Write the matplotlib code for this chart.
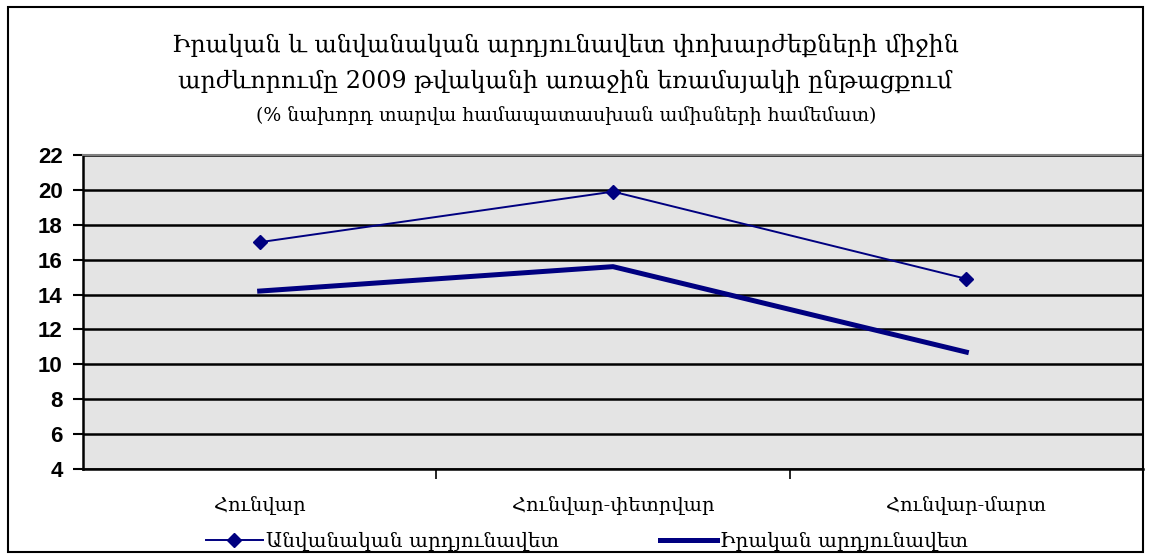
import matplotlib.pyplot as plt
from matplotlib.patches import Rectangle

# data
periods = ["Հունվար", "Հունվար-փետրվար", "Հունվար-մարտ"]
nominal = [17.0, 19.9, 14.9]
real = [14.2, 15.6, 10.7]
nominal_label = "Անվանական արդյունավետ"
real_label = "Իրական արդյունավետ"
y_ticks = [4, 6, 8, 10, 12, 14, 16, 18, 20, 22]

serif = ["DejaVu Serif Condensed", "DejaVu Serif"]
navy = "#000080"

fig = plt.figure(figsize=(11.51, 5.59), dpi=100)
ax = fig.add_axes([83 / 1151, 1 - 469 / 559, (1143 - 83) / 1151, (469 - 155) / 559])

x = list(range(len(periods)))
ax.plot(x, nominal, color=navy, lw=1.4, marker="D", ms=7.5, label=nominal_label, zorder=3)
ax.plot(x, real, color=navy, lw=3.6, label=real_label, zorder=3)

ax.set_facecolor("#e4e4e4")
ax.set_xlim(-0.5, 2.5)
ax.set_ylim(4, 22)
ax.set_yticks(y_ticks)
ax.set_yticklabels([str(v) for v in y_ticks], fontfamily="Liberation Sans", fontweight="bold", fontsize=16)
ax.yaxis.grid(True, color="black", lw=1.8)
ax.set_axisbelow(True)
ax.tick_params(axis="y", direction="out", length=7.5, width=1.5, pad=7)

# category ticks sit between the categories, labels under the centers
ax.set_xticks([0.5, 1.5])
ax.set_xticklabels([])
ax.tick_params(axis="x", direction="out", length=7, width=1.2)
for xi, name in zip(x, periods):
    ax.text(xi, -0.115, name, transform=ax.get_xaxis_transform(), ha="center", va="center",
            family=serif, fontsize=14)

for side in ["left", "bottom"]:
    ax.spines[side].set_color("black")
    ax.spines[side].set_linewidth(1.8)
ax.spines["top"].set_color("#808080")
ax.spines["top"].set_linewidth(1.5)
ax.spines["right"].set_visible(False)

# titles
fig.text(565 / 1151, 1 - 45 / 559, "Իրական և անվանական արդյունավետ փոխարժեքների միջին",
         ha="center", va="center", family=serif, fontsize=17.1)
fig.text(565 / 1151, 1 - 81 / 559, "արժևորումը 2009 թվականի առաջին եռամսյակի ընթացքում",
         ha="center", va="center", family=serif, fontsize=17.1)
fig.text(566 / 1151, 1 - 116 / 559, "(% նախորդ տարվա համապատասխան ամիսների համեմատ)",
         ha="center", va="center", family=serif, fontsize=13.6)

# legend
leg = fig.legend(loc="center", bbox_to_anchor=(587 / 1151, 1 - 541 / 559), ncol=2, frameon=False,
                 prop={"family": serif, "size": 14.4}, handlelength=2.85, handletextpad=0.2,
                 columnspacing=5.0, borderaxespad=0)

# outer frame
fig.patches.append(Rectangle((8 / 1151, 7 / 559), 1135 / 1151, 545 / 559, transform=fig.transFigure,
                             fill=False, edgecolor="black", lw=1.5))

fig.savefig("out.png", dpi=100)
